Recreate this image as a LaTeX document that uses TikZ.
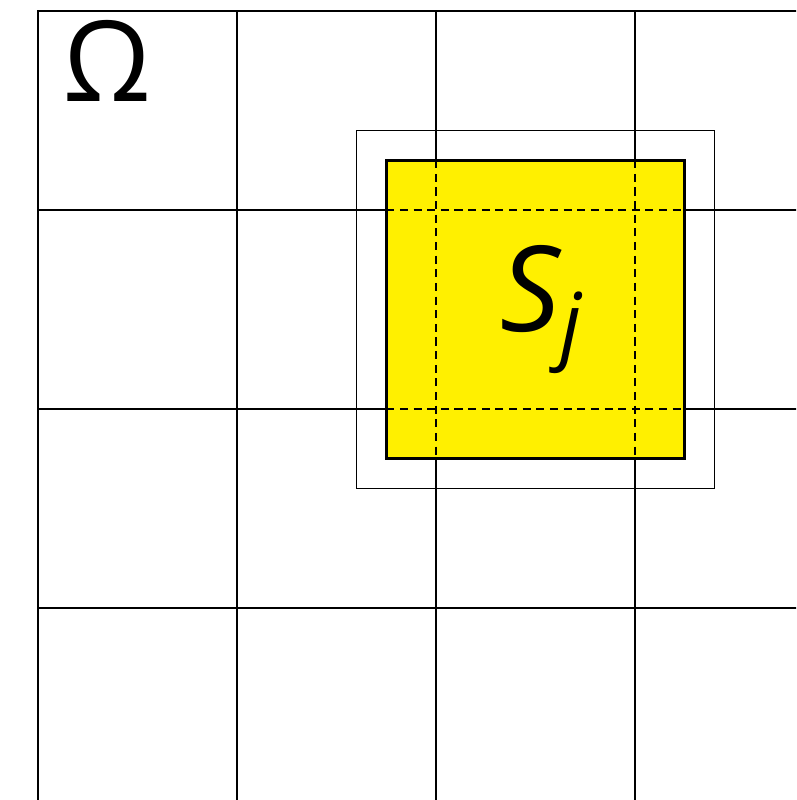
\documentclass[tikz,border=0pt]{standalone}
\usepackage{fontspec}
\setmainfont{Open Sans}
\definecolor{sjyellow}{RGB}{255,240,0}
\begin{document}
\begin{tikzpicture}[x=2cm,y=2cm,line width=.4pt,font=\fontsize{34}{40}\selectfont]
  \useasboundingbox (-.191,.055) rectangle (3.809,-3.965);
  \clip (-.191,.055) rectangle (3.809,-3.965);
  \coordinate (tl) at (1.75,-.75);
  \coordinate (br) at (3.25,-2.25);
  \foreach \k in {1,2,3,4} {
    \draw (\k,0)--(\k,-4.2);
    \draw (0,-\k)--(4.2,-\k);
  }
  \draw[line width=.8pt] (0,-4.2)--(0,0)--(4.2,0);
  \draw (1.6,-.6) rectangle (3.4,-2.4);
  \filldraw[fill=sjyellow,line width=.8pt] (tl) rectangle (br);
  \foreach \k in {2,3}
    \draw[dash pattern=on 2.3pt off 1.6pt] (\k,-.75)--(\k,-2.25);
  \foreach \k in {1,2}
    \draw[dash pattern=on 2.3pt off 1.6pt] (1.75,-\k)--(3.25,-\k);
  \node (omega) at (.35,-.25) {\fontsize{32}{38}\selectfont Ω};
  \node (sj) at (2.53,-1.5) {\itshape S\raisebox{-.35ex}{\fontsize{24}{28}\selectfont j}};
\end{tikzpicture}
\end{document}
